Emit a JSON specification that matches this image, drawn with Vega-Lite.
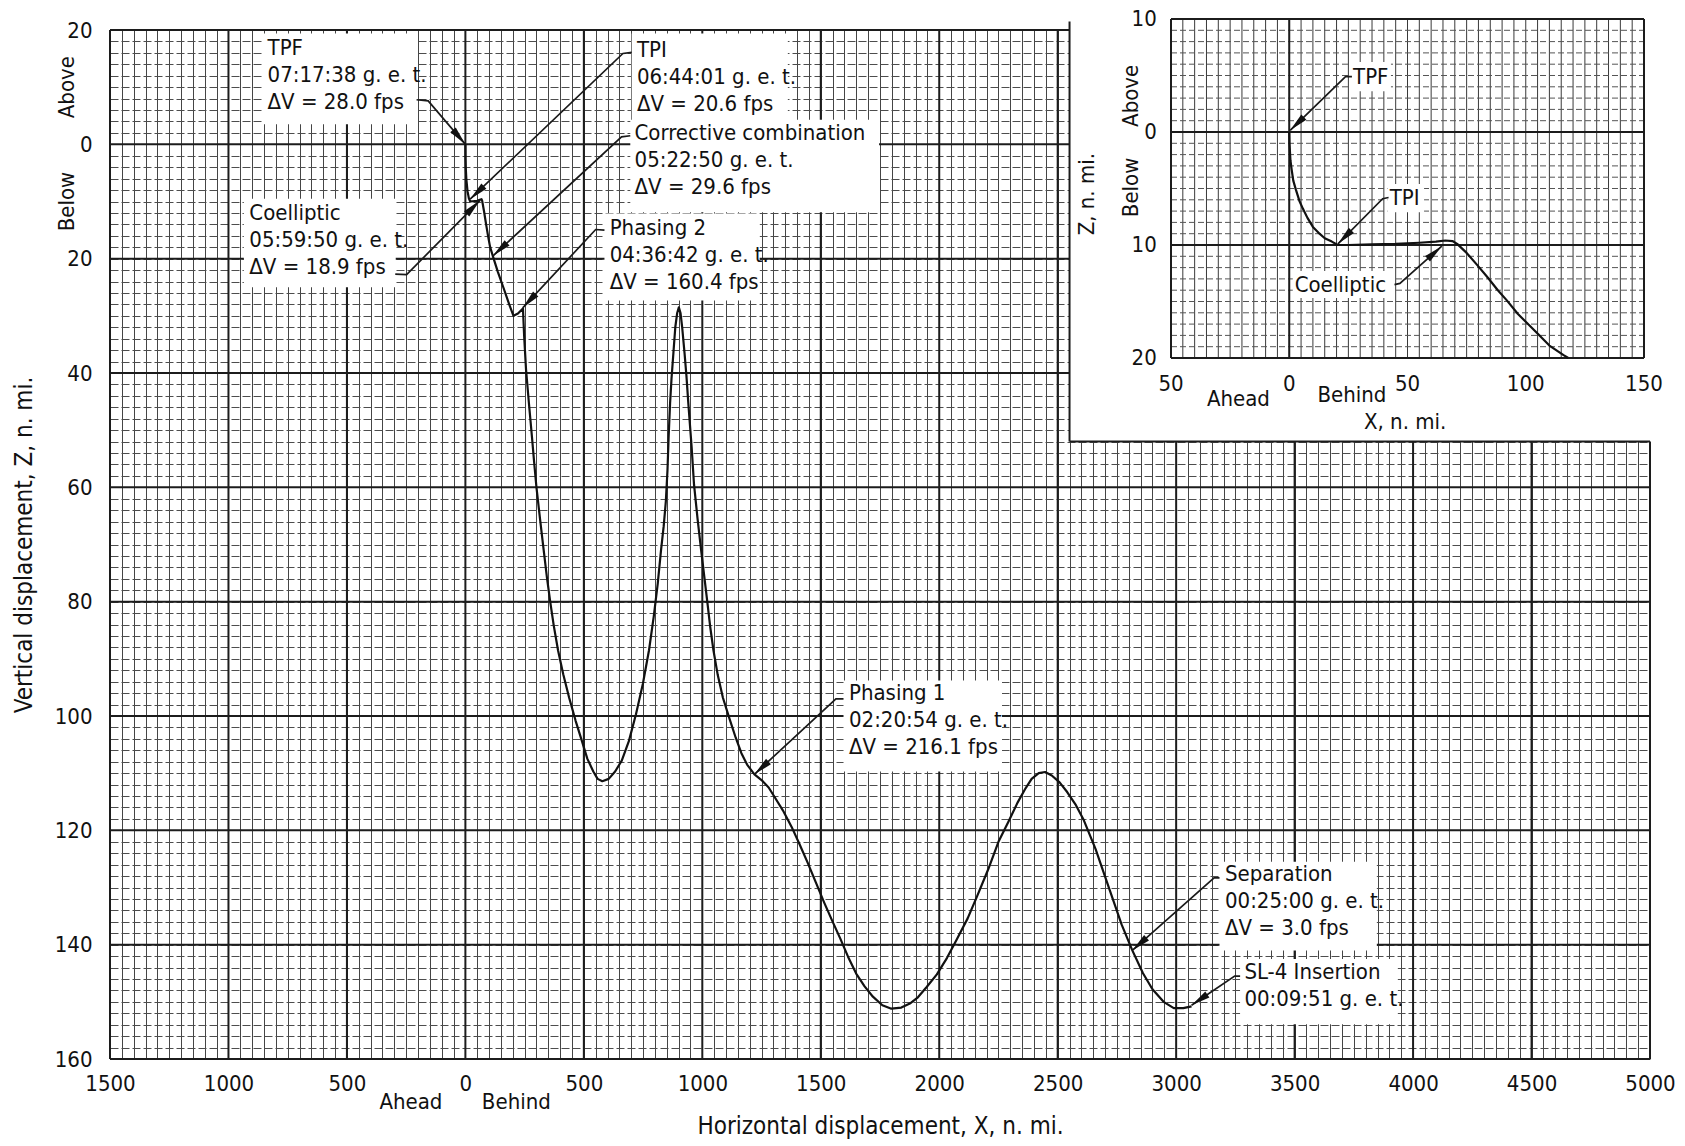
{
  "$schema": "https://vega.github.io/schema/vega-lite/v6.json",
  "width": 1540,
  "height": 1029,
  "autosize": {"type": "none"},
  "padding": {"left": 110, "top": 30, "right": 35, "bottom": 87},
  "background": "white",
  "config": {
    "view": {"stroke": null},
    "font": "DejaVu Sans Condensed, Liberation Sans Narrow, Liberation Sans, sans-serif",
    "text": {"font": "DejaVu Sans Condensed, Liberation Sans Narrow, Liberation Sans, sans-serif", "fontSize": 22, "color": "#111111"},
    "axis": {"labelFont": "DejaVu Sans Condensed, Liberation Sans Narrow, Liberation Sans, sans-serif", "titleFont": "DejaVu Sans Condensed, Liberation Sans Narrow, Liberation Sans, sans-serif"}
  },
  "datasets": {
    "majorX": [{"gx": -1500}, {"gx": -1000}, {"gx": -500}, {"gx": 0}, {"gx": 500}, {"gx": 1000}, {"gx": 1500}, {"gx": 2000}, {"gx": 2500}, {"gx": 3000}, {"gx": 3500}, {"gx": 4000}, {"gx": 4500}, {"gx": 5000}],
    "majorZ": [{"gz": -20}, {"gz": 0}, {"gz": 20}, {"gz": 40}, {"gz": 60}, {"gz": 80}, {"gz": 100}, {"gz": 120}, {"gz": 140}, {"gz": 160}],
    "cut": [{"x1": 2550, "x2": 5060, "z1": -22.5, "z2": 52}],
    "cutEdges": [{"x1": 2550, "x2": 2550, "z1": -21.5, "z2": 52}, {"x1": 2550, "x2": 5000, "z1": 52, "z2": 52}],
    "traj": [
      {"seq": 1, "X": 3065, "Z": 150.8}, {"seq": 2, "X": 3030, "Z": 151.1}, {"seq": 3, "X": 2990, "Z": 151.1}, {"seq": 4, "X": 2947, "Z": 150.0},
      {"seq": 5, "X": 2900, "Z": 147.8}, {"seq": 6, "X": 2860, "Z": 145.0}, {"seq": 7, "X": 2815, "Z": 141.0}, {"seq": 8, "X": 2770, "Z": 136.5},
      {"seq": 9, "X": 2720, "Z": 130.5}, {"seq": 10, "X": 2660, "Z": 123.3}, {"seq": 11, "X": 2610, "Z": 118.2}, {"seq": 12, "X": 2577, "Z": 115.6},
      {"seq": 13, "X": 2540, "Z": 113.3}, {"seq": 14, "X": 2508, "Z": 111.6}, {"seq": 15, "X": 2475, "Z": 110.4}, {"seq": 16, "X": 2447, "Z": 109.8},
      {"seq": 17, "X": 2420, "Z": 110.0}, {"seq": 18, "X": 2390, "Z": 111.0}, {"seq": 19, "X": 2365, "Z": 112.6}, {"seq": 20, "X": 2330, "Z": 115.2},
      {"seq": 21, "X": 2293, "Z": 118.4}, {"seq": 22, "X": 2250, "Z": 122.0}, {"seq": 23, "X": 2206, "Z": 126.9}, {"seq": 24, "X": 2160, "Z": 131.5},
      {"seq": 25, "X": 2120, "Z": 135.4}, {"seq": 26, "X": 2075, "Z": 139.0}, {"seq": 27, "X": 2033, "Z": 142.3}, {"seq": 28, "X": 1990, "Z": 145.2},
      {"seq": 29, "X": 1947, "Z": 147.4}, {"seq": 30, "X": 1910, "Z": 149.2}, {"seq": 31, "X": 1876, "Z": 150.3}, {"seq": 32, "X": 1840, "Z": 151.0},
      {"seq": 33, "X": 1798, "Z": 151.2}, {"seq": 34, "X": 1760, "Z": 150.6}, {"seq": 35, "X": 1720, "Z": 149.1}, {"seq": 36, "X": 1685, "Z": 147.3},
      {"seq": 37, "X": 1650, "Z": 145.1}, {"seq": 38, "X": 1615, "Z": 142.1}, {"seq": 39, "X": 1582, "Z": 138.9}, {"seq": 40, "X": 1548, "Z": 135.8},
      {"seq": 41, "X": 1514, "Z": 132.6}, {"seq": 42, "X": 1480, "Z": 129.2}, {"seq": 43, "X": 1445, "Z": 125.7}, {"seq": 44, "X": 1410, "Z": 122.4},
      {"seq": 45, "X": 1377, "Z": 119.4}, {"seq": 46, "X": 1340, "Z": 116.5}, {"seq": 47, "X": 1307, "Z": 114.3}, {"seq": 48, "X": 1280, "Z": 112.5},
      {"seq": 49, "X": 1250, "Z": 111.2}, {"seq": 50, "X": 1220, "Z": 110.2}, {"seq": 51, "X": 1189, "Z": 108.5}, {"seq": 52, "X": 1165, "Z": 106.5},
      {"seq": 53, "X": 1141, "Z": 103.8}, {"seq": 54, "X": 1115, "Z": 100.5}, {"seq": 55, "X": 1087, "Z": 96.8}, {"seq": 56, "X": 1065, "Z": 92.8},
      {"seq": 57, "X": 1047, "Z": 88.5}, {"seq": 58, "X": 1033, "Z": 84.3}, {"seq": 59, "X": 1021, "Z": 80.0}, {"seq": 60, "X": 1008, "Z": 75.5},
      {"seq": 61, "X": 995, "Z": 71.0}, {"seq": 62, "X": 980, "Z": 65.5}, {"seq": 63, "X": 965, "Z": 59.5}, {"seq": 64, "X": 955, "Z": 53.0},
      {"seq": 65, "X": 941, "Z": 45.3}, {"seq": 66, "X": 933, "Z": 40.5}, {"seq": 67, "X": 925, "Z": 36.5}, {"seq": 68, "X": 915, "Z": 32.0},
      {"seq": 69, "X": 908, "Z": 29.5}, {"seq": 70, "X": 901, "Z": 28.5}, {"seq": 71, "X": 894, "Z": 29.5}, {"seq": 72, "X": 886, "Z": 32.0},
      {"seq": 73, "X": 878, "Z": 36.5}, {"seq": 74, "X": 870, "Z": 41.0}, {"seq": 75, "X": 864, "Z": 45.3}, {"seq": 76, "X": 858, "Z": 51.0},
      {"seq": 77, "X": 853, "Z": 57.0}, {"seq": 78, "X": 846, "Z": 62.5}, {"seq": 79, "X": 837, "Z": 66.8}, {"seq": 80, "X": 826, "Z": 70.9},
      {"seq": 81, "X": 812, "Z": 76.8}, {"seq": 82, "X": 795, "Z": 82.6}, {"seq": 83, "X": 775, "Z": 88.5}, {"seq": 84, "X": 749, "Z": 94.4},
      {"seq": 85, "X": 720, "Z": 99.7}, {"seq": 86, "X": 690, "Z": 104.4}, {"seq": 87, "X": 660, "Z": 107.8}, {"seq": 88, "X": 632, "Z": 109.7},
      {"seq": 89, "X": 605, "Z": 111.0}, {"seq": 90, "X": 578, "Z": 111.4}, {"seq": 91, "X": 558, "Z": 111.0}, {"seq": 92, "X": 540, "Z": 109.7},
      {"seq": 93, "X": 515, "Z": 107.5}, {"seq": 94, "X": 492, "Z": 104.4}, {"seq": 95, "X": 465, "Z": 100.8}, {"seq": 96, "X": 438, "Z": 96.8},
      {"seq": 97, "X": 413, "Z": 92.7}, {"seq": 98, "X": 391, "Z": 88.5}, {"seq": 99, "X": 373, "Z": 84.2}, {"seq": 100, "X": 358, "Z": 80.0},
      {"seq": 101, "X": 344, "Z": 75.7}, {"seq": 102, "X": 332, "Z": 71.5}, {"seq": 103, "X": 315, "Z": 65.5}, {"seq": 104, "X": 300, "Z": 60.0},
      {"seq": 105, "X": 290, "Z": 55.5}, {"seq": 106, "X": 281, "Z": 51.2}, {"seq": 107, "X": 268, "Z": 45.2}, {"seq": 108, "X": 256, "Z": 39.4},
      {"seq": 109, "X": 248, "Z": 33.5}, {"seq": 110, "X": 243, "Z": 28.7}, {"seq": 111, "X": 222, "Z": 29.6}, {"seq": 112, "X": 203, "Z": 30.0},
      {"seq": 113, "X": 185, "Z": 28.0}, {"seq": 114, "X": 160, "Z": 25.0}, {"seq": 115, "X": 137, "Z": 22.3}, {"seq": 116, "X": 117, "Z": 19.7},
      {"seq": 117, "X": 104, "Z": 17.9}, {"seq": 118, "X": 96, "Z": 16.1}, {"seq": 119, "X": 87.5, "Z": 14.0}, {"seq": 120, "X": 79, "Z": 11.8},
      {"seq": 121, "X": 71, "Z": 9.9}, {"seq": 122, "X": 68, "Z": 9.6}, {"seq": 123, "X": 64, "Z": 9.65}, {"seq": 124, "X": 50, "Z": 9.88},
      {"seq": 125, "X": 35, "Z": 9.95}, {"seq": 126, "X": 20.5, "Z": 10.0}, {"seq": 127, "X": 15, "Z": 9.5}, {"seq": 128, "X": 9, "Z": 8.2},
      {"seq": 129, "X": 4, "Z": 6.1}, {"seq": 130, "X": 1.5, "Z": 4.0}, {"seq": 131, "X": 0.5, "Z": 2.5}, {"seq": 132, "X": 0, "Z": 0}
    ],
    "callouts": [
      {"id": "TPF", "text": "TPF\n07:17:38 g. e. t.\nΔV = 28.0 fps", "tx": -835, "tz": -18.6, "bx1": -853, "bx2": -204, "bz1": -19.4, "bz2": -3.5},
      {"id": "TPI", "text": "TPI\n06:44:01 g. e. t.\nΔV = 20.6 fps", "tx": 724, "tz": -18.3, "bx1": 702, "bx2": 1361, "bz1": -19.4, "bz2": -4.2},
      {"id": "CC", "text": "Corrective combination\n05:22:50 g. e. t.\nΔV = 29.6 fps", "tx": 714, "tz": -3.7, "bx1": 696, "bx2": 1746, "bz1": -4.3, "bz2": 11.9},
      {"id": "P2", "text": "Phasing 2\n04:36:42 g. e. t.\nΔV = 160.4 fps", "tx": 609, "tz": 12.8, "bx1": 587, "bx2": 1242, "bz1": 12.1, "bz2": 27.3},
      {"id": "CO", "text": "Coelliptic\n05:59:50 g. e. t.\nΔV = 18.9 fps", "tx": -912, "tz": 10.3, "bx1": -935, "bx2": -294, "bz1": 9.5, "bz2": 25},
      {"id": "P1", "text": "Phasing 1\n02:20:54 g. e. t.\nΔV = 216.1 fps", "tx": 1619, "tz": 94.3, "bx1": 1596, "bx2": 2265, "bz1": 93.8, "bz2": 109.7},
      {"id": "SEP", "text": "Separation\n00:25:00 g. e. t.\nΔV = 3.0 fps", "tx": 3206, "tz": 125.9, "bx1": 3183, "bx2": 3847, "bz1": 125.5, "bz2": 141},
      {"id": "INS", "text": "SL-4 Insertion\n00:09:51 g. e. t.", "tx": 3288, "tz": 143.1, "bx1": 3270, "bx2": 3935, "bz1": 142.5, "bz2": 153.9}
    ],
    "leaders": [
      {"id": "TPF", "seq": 1, "X": -206, "Z": -7.8}, {"id": "TPF", "seq": 2, "X": -157, "Z": -7.6}, {"id": "TPF", "seq": 3, "X": 0, "Z": 0},
      {"id": "TPI", "seq": 1, "X": 702, "Z": -16.1}, {"id": "TPI", "seq": 2, "X": 665, "Z": -15.9}, {"id": "TPI", "seq": 3, "X": 20, "Z": 9.6},
      {"id": "CC", "seq": 1, "X": 696, "Z": -1.5}, {"id": "CC", "seq": 2, "X": 659, "Z": -1.3}, {"id": "CC", "seq": 3, "X": 117, "Z": 19.5},
      {"id": "P2", "seq": 1, "X": 587, "Z": 15.0}, {"id": "P2", "seq": 2, "X": 550, "Z": 14.9}, {"id": "P2", "seq": 3, "X": 242, "Z": 28.6},
      {"id": "CO", "seq": 1, "X": -296, "Z": 22.7}, {"id": "CO", "seq": 2, "X": -248, "Z": 22.8}, {"id": "CO", "seq": 3, "X": 62, "Z": 9.8},
      {"id": "P1", "seq": 1, "X": 1596, "Z": 97.0}, {"id": "P1", "seq": 2, "X": 1564, "Z": 97.0}, {"id": "P1", "seq": 3, "X": 1220, "Z": 110.2},
      {"id": "SEP", "seq": 1, "X": 3183, "Z": 128.3}, {"id": "SEP", "seq": 2, "X": 3160, "Z": 128.3}, {"id": "SEP", "seq": 3, "X": 2815, "Z": 141.0},
      {"id": "INS", "seq": 1, "X": 3270, "Z": 145.5}, {"id": "INS", "seq": 2, "X": 3247, "Z": 145.5}, {"id": "INS", "seq": 3, "X": 3065, "Z": 150.6}
    ],
    "arrows": [
      {"id": "TPF", "X": 0, "Z": 0, "heading": -40.6},
      {"id": "TPI", "X": 20, "Z": 9.6, "heading": 46.3},
      {"id": "CC", "X": 117, "Z": 19.5, "heading": 47.2},
      {"id": "P2", "X": 242, "Z": 28.6, "heading": 43},
      {"id": "CO", "X": 62, "Z": 9.8, "heading": 224.7},
      {"id": "P1", "X": 1220, "Z": 110.2, "heading": 47.6},
      {"id": "SEP", "X": 2815, "Z": 141.0, "heading": 48.4},
      {"id": "INS", "X": 3065, "Z": 150.6, "heading": 55.9}
    ],
    "mainRot": [{"t": "Above", "X": -1681, "Z": -10}, {"t": "Below", "X": -1681, "Z": 10}],
    "mainNotes": [{"t": "Ahead", "X": -230, "Z": 167.5}, {"t": "Behind", "X": 215, "Z": 167.5}],
    "insetMinorX": [{"ix": -50}, {"ix": -45}, {"ix": -40}, {"ix": -35}, {"ix": -30}, {"ix": -25}, {"ix": -20}, {"ix": -15}, {"ix": -10}, {"ix": -5}, {"ix": 0}, {"ix": 5}, {"ix": 10}, {"ix": 15}, {"ix": 20}, {"ix": 25}, {"ix": 30}, {"ix": 35}, {"ix": 40}, {"ix": 45}, {"ix": 50}, {"ix": 55}, {"ix": 60}, {"ix": 65}, {"ix": 70}, {"ix": 75}, {"ix": 80}, {"ix": 85}, {"ix": 90}, {"ix": 95}, {"ix": 100}, {"ix": 105}, {"ix": 110}, {"ix": 115}, {"ix": 120}, {"ix": 125}, {"ix": 130}, {"ix": 135}, {"ix": 140}, {"ix": 145}, {"ix": 150}],
    "insetMinorZ": [{"iz": -10}, {"iz": -9}, {"iz": -8}, {"iz": -7}, {"iz": -6}, {"iz": -5}, {"iz": -4}, {"iz": -3}, {"iz": -2}, {"iz": -1}, {"iz": 0}, {"iz": 1}, {"iz": 2}, {"iz": 3}, {"iz": 4}, {"iz": 5}, {"iz": 6}, {"iz": 7}, {"iz": 8}, {"iz": 9}, {"iz": 10}, {"iz": 11}, {"iz": 12}, {"iz": 13}, {"iz": 14}, {"iz": 15}, {"iz": 16}, {"iz": 17}, {"iz": 18}, {"iz": 19}, {"iz": 20}],
    "insetMajorX": [{"ix": -50}, {"ix": 0}, {"ix": 150}],
    "insetMajorZ": [{"iz": -10}, {"iz": 0}, {"iz": 10}, {"iz": 20}],
    "insetTraj": [
      {"seq": 1, "X": 118, "Z": 20}, {"seq": 2, "X": 116, "Z": 19.75}, {"seq": 3, "X": 110, "Z": 18.9}, {"seq": 4, "X": 105.3, "Z": 17.9},
      {"seq": 5, "X": 100, "Z": 16.8}, {"seq": 6, "X": 96.7, "Z": 16.1}, {"seq": 7, "X": 92, "Z": 14.9}, {"seq": 8, "X": 88.2, "Z": 14.0},
      {"seq": 9, "X": 84, "Z": 12.9}, {"seq": 10, "X": 79.6, "Z": 11.8}, {"seq": 11, "X": 75, "Z": 10.7}, {"seq": 12, "X": 71, "Z": 9.9},
      {"seq": 13, "X": 69, "Z": 9.65}, {"seq": 14, "X": 66, "Z": 9.6}, {"seq": 15, "X": 62, "Z": 9.7}, {"seq": 16, "X": 55, "Z": 9.8},
      {"seq": 17, "X": 45, "Z": 9.9}, {"seq": 18, "X": 35, "Z": 9.95}, {"seq": 19, "X": 25, "Z": 10}, {"seq": 20, "X": 20.5, "Z": 10},
      {"seq": 21, "X": 18, "Z": 9.7}, {"seq": 22, "X": 15, "Z": 9.4}, {"seq": 23, "X": 12.8, "Z": 9.0}, {"seq": 24, "X": 10, "Z": 8.4},
      {"seq": 25, "X": 7.7, "Z": 7.6}, {"seq": 26, "X": 5.8, "Z": 6.8}, {"seq": 27, "X": 4.3, "Z": 6.1}, {"seq": 28, "X": 2.8, "Z": 5.1},
      {"seq": 29, "X": 1.7, "Z": 4.3}, {"seq": 30, "X": 1, "Z": 3.3}, {"seq": 31, "X": 0.5, "Z": 2.5}, {"seq": 32, "X": 0.1, "Z": 1.0},
      {"seq": 33, "X": 0, "Z": 0}
    ],
    "insetLabels": [
      {"t": "TPF", "X": 27, "Z": -4.9, "bx1": 26, "bx2": 43, "bz1": -6.2, "bz2": -3.6},
      {"t": "TPI", "X": 42.5, "Z": 5.8, "bx1": 41.5, "bx2": 57, "bz1": 4.6, "bz2": 7.1},
      {"t": "Coelliptic", "X": 2.3, "Z": 13.5, "bx1": 1.5, "bx2": 44.5, "bz1": 12.3, "bz2": 14.7}
    ],
    "insetLeaders": [
      {"id": "TPF", "seq": 1, "X": 26.5, "Z": -4.9}, {"id": "TPF", "seq": 2, "X": 23.8, "Z": -4.9}, {"id": "TPF", "seq": 3, "X": 0.4, "Z": -0.15},
      {"id": "TPI", "seq": 1, "X": 42, "Z": 5.8}, {"id": "TPI", "seq": 2, "X": 39.5, "Z": 5.9}, {"id": "TPI", "seq": 3, "X": 20.6, "Z": 9.9},
      {"id": "CO", "seq": 1, "X": 44.5, "Z": 13.5}, {"id": "CO", "seq": 2, "X": 46.8, "Z": 13.4}, {"id": "CO", "seq": 3, "X": 64.5, "Z": 10.1}
    ],
    "insetArrows": [
      {"id": "TPF", "X": 0.4, "Z": -0.15, "heading": 45.8},
      {"id": "TPI", "X": 20.6, "Z": 9.9, "heading": 44.7},
      {"id": "CO", "X": 64.5, "Z": 10.1, "heading": 228.3}
    ],
    "insetYTicks": [{"t": "10", "X": -56, "Z": -10}, {"t": "0", "X": -56, "Z": 0}, {"t": "10", "X": -56, "Z": 10}, {"t": "20", "X": -56, "Z": 20}],
    "insetXTicks": [{"t": "50", "X": -50, "Z": 22.3}, {"t": "0", "X": 0, "Z": 22.3}, {"t": "50", "X": 50, "Z": 22.3}, {"t": "100", "X": 100, "Z": 22.3}, {"t": "150", "X": 150, "Z": 22.3}],
    "insetRot": [{"t": "Above", "X": -67, "Z": -3.2}, {"t": "Below", "X": -67, "Z": 4.9}, {"t": "Z, n. mi.", "X": -85.5, "Z": 5.5}],
    "insetNotes": [{"t": "Ahead", "X": -21.5, "Z": 23.6}, {"t": "Behind", "X": 26.5, "Z": 23.3}, {"t": "X, n. mi.", "X": 49, "Z": 25.7}]
  },
  "resolve": {"scale": {"x": "independent", "y": "independent"}},
  "layer": [
    {
      "data": {"name": "majorX"},
      "mark": {"type": "rule", "color": "#1c1c1c", "strokeWidth": 2},
      "encoding": {
        "x": {"field": "gx", "type": "quantitative", "scale": {"domain": [-1500, 5000], "nice": false, "zero": false},
          "axis": {"title": "Horizontal displacement, X, n. mi.", "orient": "bottom", "grid": true, "tickCount": 130, "gridColor": "#454545", "gridWidth": 1, "ticks": false, "domain": false,
            "labelExpr": "datum.value % 500 === 0 ? format(abs(datum.value), 'd') : ''",
            "labelFontSize": 22, "labelColor": "#111111", "labelPadding": 14, "labelFlush": false, "labelOverlap": false, "labelBound": false,
            "titleFontSize": 24, "titleFontWeight": "normal", "titleColor": "#111111", "titlePadding": 20}},
        "y": {"datum": -20, "type": "quantitative", "scale": {"domain": [-20, 160], "reverse": true, "nice": false, "zero": false}, "axis": null},
        "y2": {"datum": 160}
      }
    },
    {
      "data": {"name": "majorZ"},
      "mark": {"type": "rule", "color": "#1c1c1c", "strokeWidth": 2},
      "encoding": {
        "y": {"field": "gz", "type": "quantitative", "scale": {"domain": [-20, 160], "reverse": true, "nice": false, "zero": false},
          "axis": {"title": "Vertical displacement, Z, n. mi.", "orient": "left", "grid": true, "tickCount": 90, "gridColor": "#4d4d4d", "gridWidth": 1, "gridDash": [8, 3], "ticks": false, "domain": false,
            "labelExpr": "datum.value % 20 === 0 ? format(abs(datum.value), 'd') : ''",
            "labelFontSize": 22, "labelColor": "#111111", "labelPadding": 18, "labelFlush": false, "labelOverlap": false, "labelBound": false,
            "titleFontSize": 24, "titleFontWeight": "normal", "titleColor": "#111111", "titlePadding": 18}},
        "x": {"datum": -1500, "type": "quantitative", "scale": {"domain": [-1500, 5000], "nice": false, "zero": false}, "axis": null},
        "x2": {"datum": 5000}
      }
    },
    {
      "data": {"name": "cut"},
      "mark": {"type": "rect", "fill": "white", "stroke": null},
      "encoding": {
        "x": {"field": "x1", "type": "quantitative", "axis": null, "scale": {"domain": [-1500, 5000], "nice": false, "zero": false}}, "x2": {"field": "x2"},
        "y": {"field": "z1", "type": "quantitative", "axis": null, "scale": {"domain": [-20, 160], "reverse": true, "nice": false, "zero": false}}, "y2": {"field": "z2"}
      }
    },
    {
      "data": {"name": "cutEdges"},
      "mark": {"type": "rule", "color": "#1c1c1c", "strokeWidth": 2},
      "encoding": {
        "x": {"field": "x1", "type": "quantitative", "axis": null, "scale": {"domain": [-1500, 5000], "nice": false, "zero": false}}, "x2": {"field": "x2"},
        "y": {"field": "z1", "type": "quantitative", "axis": null, "scale": {"domain": [-20, 160], "reverse": true, "nice": false, "zero": false}}, "y2": {"field": "z2"}
      }
    },
    {
      "data": {"name": "callouts"},
      "mark": {"type": "rect", "fill": "white", "stroke": null},
      "encoding": {
        "x": {"field": "bx1", "type": "quantitative", "axis": null, "scale": {"domain": [-1500, 5000], "nice": false, "zero": false}}, "x2": {"field": "bx2"},
        "y": {"field": "bz1", "type": "quantitative", "axis": null, "scale": {"domain": [-20, 160], "reverse": true, "nice": false, "zero": false}}, "y2": {"field": "bz2"}
      }
    },
    {
      "data": {"name": "traj"},
      "mark": {"type": "line", "color": "#111111", "strokeWidth": 2.2, "strokeJoin": "round"},
      "encoding": {
        "x": {"field": "X", "type": "quantitative", "axis": null, "scale": {"domain": [-1500, 5000], "nice": false, "zero": false}},
        "y": {"field": "Z", "type": "quantitative", "axis": null, "scale": {"domain": [-20, 160], "reverse": true, "nice": false, "zero": false}},
        "order": {"field": "seq", "type": "quantitative"}
      }
    },
    {
      "data": {"name": "leaders"},
      "mark": {"type": "line", "color": "#1a1a1a", "strokeWidth": 1.7},
      "encoding": {
        "x": {"field": "X", "type": "quantitative", "axis": null, "scale": {"domain": [-1500, 5000], "nice": false, "zero": false}},
        "y": {"field": "Z", "type": "quantitative", "axis": null, "scale": {"domain": [-20, 160], "reverse": true, "nice": false, "zero": false}},
        "detail": {"field": "id", "type": "nominal"},
        "order": {"field": "seq", "type": "quantitative"}
      }
    },
    {
      "data": {"name": "arrows"},
      "mark": {"type": "point", "shape": "M0,0L-0.42,-2.2L0.42,-2.2Z", "filled": true, "color": "#111111", "opacity": 1, "size": 300, "strokeWidth": 0},
      "encoding": {
        "x": {"field": "X", "type": "quantitative", "axis": null, "scale": {"domain": [-1500, 5000], "nice": false, "zero": false}},
        "y": {"field": "Z", "type": "quantitative", "axis": null, "scale": {"domain": [-20, 160], "reverse": true, "nice": false, "zero": false}},
        "angle": {"field": "heading", "type": "quantitative", "scale": null}
      }
    },
    {
      "data": {"name": "callouts"},
      "mark": {"type": "text", "align": "left", "baseline": "top", "lineBreak": "\n", "lineHeight": 27},
      "encoding": {
        "x": {"field": "tx", "type": "quantitative", "axis": null, "scale": {"domain": [-1500, 5000], "nice": false, "zero": false}},
        "y": {"field": "tz", "type": "quantitative", "axis": null, "scale": {"domain": [-20, 160], "reverse": true, "nice": false, "zero": false}},
        "text": {"field": "text"}
      }
    },
    {
      "data": {"name": "mainRot"},
      "mark": {"type": "text", "align": "center", "baseline": "middle", "angle": 270},
      "encoding": {
        "x": {"field": "X", "type": "quantitative", "axis": null, "scale": {"domain": [-1500, 5000], "nice": false, "zero": false}},
        "y": {"field": "Z", "type": "quantitative", "axis": null, "scale": {"domain": [-20, 160], "reverse": true, "nice": false, "zero": false}},
        "text": {"field": "t"}
      }
    },
    {
      "data": {"name": "mainNotes"},
      "mark": {"type": "text", "align": "center", "baseline": "middle"},
      "encoding": {
        "x": {"field": "X", "type": "quantitative", "axis": null, "scale": {"domain": [-1500, 5000], "nice": false, "zero": false}},
        "y": {"field": "Z", "type": "quantitative", "axis": null, "scale": {"domain": [-20, 160], "reverse": true, "nice": false, "zero": false}},
        "text": {"field": "t"}
      }
    },
    {
      "data": {"name": "insetMinorX"},
      "mark": {"type": "rule", "color": "#3a3a3a", "strokeWidth": 1},
      "encoding": {
        "x": {"field": "ix", "type": "quantitative", "axis": null, "scale": {"domain": [-50, 150], "range": [1061, 1534], "nice": false, "zero": false}},
        "y": {"datum": -10, "type": "quantitative", "axis": null, "scale": {"domain": [-10, 20], "range": [-11, 328], "nice": false, "zero": false}},
        "y2": {"datum": 20}
      }
    },
    {
      "data": {"name": "insetMinorZ"},
      "mark": {"type": "rule", "color": "#555555", "strokeWidth": 1, "strokeDash": [6, 3]},
      "encoding": {
        "y": {"field": "iz", "type": "quantitative", "axis": null, "scale": {"domain": [-10, 20], "range": [-11, 328], "nice": false, "zero": false}},
        "x": {"datum": -50, "type": "quantitative", "axis": null, "scale": {"domain": [-50, 150], "range": [1061, 1534], "nice": false, "zero": false}},
        "x2": {"datum": 150}
      }
    },
    {
      "data": {"name": "insetMajorX"},
      "mark": {"type": "rule", "color": "#1c1c1c", "strokeWidth": 2},
      "encoding": {
        "x": {"field": "ix", "type": "quantitative", "axis": null, "scale": {"domain": [-50, 150], "range": [1061, 1534], "nice": false, "zero": false}},
        "y": {"datum": -10, "type": "quantitative", "axis": null, "scale": {"domain": [-10, 20], "range": [-11, 328], "nice": false, "zero": false}},
        "y2": {"datum": 20}
      }
    },
    {
      "data": {"name": "insetMajorZ"},
      "mark": {"type": "rule", "color": "#1c1c1c", "strokeWidth": 2},
      "encoding": {
        "y": {"field": "iz", "type": "quantitative", "axis": null, "scale": {"domain": [-10, 20], "range": [-11, 328], "nice": false, "zero": false}},
        "x": {"datum": -50, "type": "quantitative", "axis": null, "scale": {"domain": [-50, 150], "range": [1061, 1534], "nice": false, "zero": false}},
        "x2": {"datum": 150}
      }
    },
    {
      "data": {"name": "insetLabels"},
      "mark": {"type": "rect", "fill": "white", "stroke": null},
      "encoding": {
        "x": {"field": "bx1", "type": "quantitative", "axis": null, "scale": {"domain": [-50, 150], "range": [1061, 1534], "nice": false, "zero": false}}, "x2": {"field": "bx2"},
        "y": {"field": "bz1", "type": "quantitative", "axis": null, "scale": {"domain": [-10, 20], "range": [-11, 328], "nice": false, "zero": false}}, "y2": {"field": "bz2"}
      }
    },
    {
      "data": {"name": "insetTraj"},
      "mark": {"type": "line", "color": "#111111", "strokeWidth": 2.2, "strokeJoin": "round"},
      "encoding": {
        "x": {"field": "X", "type": "quantitative", "axis": null, "scale": {"domain": [-50, 150], "range": [1061, 1534], "nice": false, "zero": false}},
        "y": {"field": "Z", "type": "quantitative", "axis": null, "scale": {"domain": [-10, 20], "range": [-11, 328], "nice": false, "zero": false}},
        "order": {"field": "seq", "type": "quantitative"}
      }
    },
    {
      "data": {"name": "insetLeaders"},
      "mark": {"type": "line", "color": "#1a1a1a", "strokeWidth": 1.7},
      "encoding": {
        "x": {"field": "X", "type": "quantitative", "axis": null, "scale": {"domain": [-50, 150], "range": [1061, 1534], "nice": false, "zero": false}},
        "y": {"field": "Z", "type": "quantitative", "axis": null, "scale": {"domain": [-10, 20], "range": [-11, 328], "nice": false, "zero": false}},
        "detail": {"field": "id", "type": "nominal"},
        "order": {"field": "seq", "type": "quantitative"}
      }
    },
    {
      "data": {"name": "insetArrows"},
      "mark": {"type": "point", "shape": "M0,0L-0.42,-2.2L0.42,-2.2Z", "filled": true, "color": "#111111", "opacity": 1, "size": 300, "strokeWidth": 0},
      "encoding": {
        "x": {"field": "X", "type": "quantitative", "axis": null, "scale": {"domain": [-50, 150], "range": [1061, 1534], "nice": false, "zero": false}},
        "y": {"field": "Z", "type": "quantitative", "axis": null, "scale": {"domain": [-10, 20], "range": [-11, 328], "nice": false, "zero": false}},
        "angle": {"field": "heading", "type": "quantitative", "scale": null}
      }
    },
    {
      "data": {"name": "insetLabels"},
      "mark": {"type": "text", "align": "left", "baseline": "middle"},
      "encoding": {
        "x": {"field": "X", "type": "quantitative", "axis": null, "scale": {"domain": [-50, 150], "range": [1061, 1534], "nice": false, "zero": false}},
        "y": {"field": "Z", "type": "quantitative", "axis": null, "scale": {"domain": [-10, 20], "range": [-11, 328], "nice": false, "zero": false}},
        "text": {"field": "t"}
      }
    },
    {
      "data": {"name": "insetYTicks"},
      "mark": {"type": "text", "align": "right", "baseline": "middle"},
      "encoding": {
        "x": {"field": "X", "type": "quantitative", "axis": null, "scale": {"domain": [-50, 150], "range": [1061, 1534], "nice": false, "zero": false}},
        "y": {"field": "Z", "type": "quantitative", "axis": null, "scale": {"domain": [-10, 20], "range": [-11, 328], "nice": false, "zero": false}},
        "text": {"field": "t"}
      }
    },
    {
      "data": {"name": "insetXTicks"},
      "mark": {"type": "text", "align": "center", "baseline": "middle"},
      "encoding": {
        "x": {"field": "X", "type": "quantitative", "axis": null, "scale": {"domain": [-50, 150], "range": [1061, 1534], "nice": false, "zero": false}},
        "y": {"field": "Z", "type": "quantitative", "axis": null, "scale": {"domain": [-10, 20], "range": [-11, 328], "nice": false, "zero": false}},
        "text": {"field": "t"}
      }
    },
    {
      "data": {"name": "insetRot"},
      "mark": {"type": "text", "align": "center", "baseline": "middle", "angle": 270},
      "encoding": {
        "x": {"field": "X", "type": "quantitative", "axis": null, "scale": {"domain": [-50, 150], "range": [1061, 1534], "nice": false, "zero": false}},
        "y": {"field": "Z", "type": "quantitative", "axis": null, "scale": {"domain": [-10, 20], "range": [-11, 328], "nice": false, "zero": false}},
        "text": {"field": "t"}
      }
    },
    {
      "data": {"name": "insetNotes"},
      "mark": {"type": "text", "align": "center", "baseline": "middle"},
      "encoding": {
        "x": {"field": "X", "type": "quantitative", "axis": null, "scale": {"domain": [-50, 150], "range": [1061, 1534], "nice": false, "zero": false}},
        "y": {"field": "Z", "type": "quantitative", "axis": null, "scale": {"domain": [-10, 20], "range": [-11, 328], "nice": false, "zero": false}},
        "text": {"field": "t"}
      }
    }
  ]
}
